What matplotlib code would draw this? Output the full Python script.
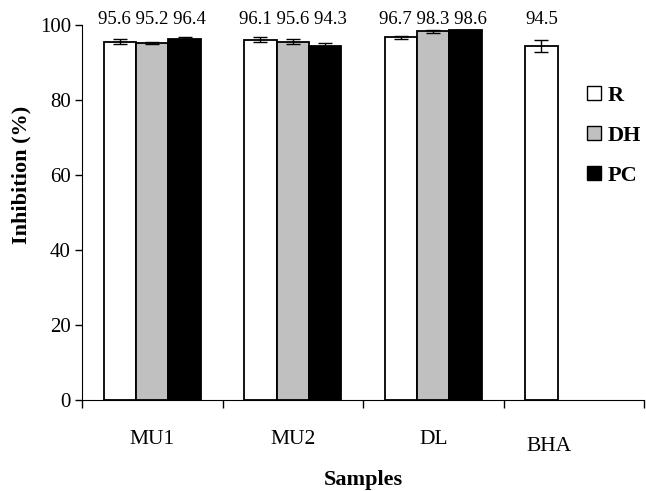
import numpy as np
import matplotlib
matplotlib.use("Agg")
import matplotlib.pyplot as plt
from matplotlib.patches import Patch

samples = ["MU1", "MU2", "DL", "BHA"]
series = ["R", "DH", "PC"]
r_vals = [95.6, 96.1, 96.7, 94.5]
dh_vals = [95.2, 95.6, 98.3, np.nan]
pc_vals = [96.4, 94.3, 98.6, np.nan]
r_err = [0.6, 0.6, 0.3, 1.6]
dh_err = [0.3, 0.7, 0.5, np.nan]
pc_err = [0.3, 0.9, 0.2, np.nan]

plt.rcParams["font.family"] = ["Liberation Serif", "DejaVu Serif"]

fig = plt.figure(figsize=(6.46, 4.91), dpi=100)
ax = fig.add_axes([0.127, 0.185, 0.870, 0.764])

x = np.arange(len(samples))
w = 0.23
colors = ["white", "#c0c0c0", "black"]
vals = [r_vals, dh_vals, pc_vals]
errs = [r_err, dh_err, pc_err]
for i, (v, e, c) in enumerate(zip(vals, errs, colors)):
    pos = x + (i - 1) * w
    ax.bar(pos, v, width=w, color=c, edgecolor="black", linewidth=1.3,
           yerr=e, capsize=5, error_kw=dict(elinewidth=1, capthick=1, ecolor="black"),
           zorder=2)

# one value string per sample, centred over its bars
for k in range(len(samples)):
    group = [v[k] for v in vals if not np.isnan(v[k])]
    n = len(group)
    cx = x[k] + (n - 3) * w / 2 if n < 3 else x[k]
    if n == 1:
        cx = x[k] - w
    ax.text(cx, 101.4, " ".join(f"{g:.1f}" for g in group), ha="center",
            va="center", fontsize=13.5, clip_on=False)

ax.set_xlim(-0.5, len(samples) - 0.5)
ax.set_ylim(0, 100)
ax.set_yticks(np.arange(0, 101, 20))
ax.tick_params(axis="y", labelsize=15, direction="out", length=5, width=1, pad=3)
ax.set_xticks(np.arange(len(samples) + 1) - 0.5)
ax.set_xticklabels([])
ax.tick_params(axis="x", direction="out", length=6, width=1)
for s in ["top", "right"]:
    ax.spines[s].set_visible(False)

# category labels (BHA sits a bit off-centre and lower, as in the original)
label_x = [0.0, 1.0, 2.0, 2.82]
label_y = [-0.104, -0.104, -0.104, -0.123]
for lx, ly, name in zip(label_x, label_y, samples):
    ax.text(lx, ly, name, transform=ax.get_xaxis_transform(), ha="center",
            va="center", fontsize=15.5)

ax.text(0.5, -0.213, "Samples", transform=ax.transAxes, ha="center",
        va="center", fontsize=16, fontweight="bold")
ax.set_ylabel("Inhibition (%)", fontsize=16, fontweight="bold", va="center")
ax.yaxis.set_label_coords(-0.107, 0.6)

handles = [Patch(facecolor=c, edgecolor="black", linewidth=1) for c in colors]
leg = ax.legend(handles, series, loc="upper left", bbox_to_anchor=(0.899, 0.837),
                frameon=False, prop=dict(weight="bold", size=16),
                borderpad=0, borderaxespad=0,
                handlelength=0.6, handleheight=0.6, handletextpad=0.3,
                labelspacing=0.9)

fig.savefig("out.png", dpi=100)
